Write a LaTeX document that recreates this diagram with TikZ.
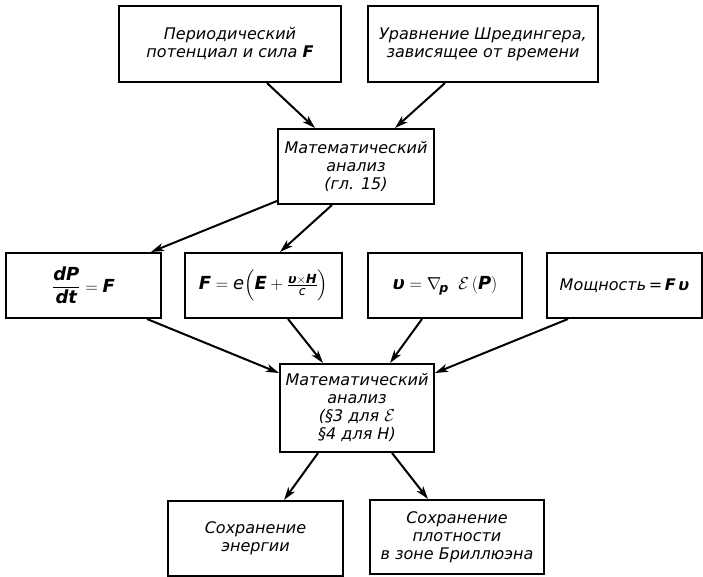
\documentclass[tikz,border=0pt]{standalone}
\usepackage{fontspec}
\usepackage{amsmath}
\setmainfont{DejaVu Sans}[ItalicFont={DejaVu Sans Oblique},BoldFont={DejaVu Sans Bold},BoldItalicFont={DejaVu Sans Bold Oblique}]
\usetikzlibrary{arrows.meta}
\newcommand\bv[1]{\text{\bfseries\itshape #1}}
\tikzset{
  box/.style={draw, line width=2pt, inner sep=0pt, align=center,
    font=\fontsize{16}{18}\selectfont\itshape},
  mathbox/.style={box, font=\fontsize{18}{21}\selectfont\itshape},
  arr/.style={line width=2pt, -{Stealth[length=13pt,width=8pt,inset=3.5pt]}},
}
\begin{document}
\begin{tikzpicture}[x=1pt,y=-1pt]
\useasboundingbox (0,0) rectangle (703,577);
\node[box, minimum width=222pt, minimum height=76pt] (b1) at (230,44)
  {Периодический\\потенциал и сила \textbf{F}};
\node[box, minimum width=230pt, minimum height=76pt] (b2) at (483,44)
  {Уравнение Шредингера,\\зависящее от времени};
\node[box, minimum width=156pt, minimum height=75pt] (b3) at (356,166.5)
  {Математический\\анализ\\(гл. 15)};
\node[mathbox, minimum width=155pt, minimum height=65pt] (b4) at (83.5,285.5)
  {$\dfrac{\bv{dP}}{\bv{dt}}=\bv{F}$};
\node[mathbox, minimum width=157pt, minimum height=65pt] (b5) at (263.5,285.5)
  {$\bv{F}=\textit{e}\Big(\bv{E}+\frac{\bv{υ}\times\bv{H}}{\textit{c}}\Big)$};
\node[mathbox, minimum width=154pt, minimum height=65pt] (b6) at (445,285.5)
  {$\bv{υ}=\nabla_{\!\bv{p}}\;\;\mathcal{E}\,(\bv{P})$};
\node[box, minimum width=155pt, minimum height=65pt] (b7) at (624.5,285.5)
  {Мощность\,=\,\textbf{F}\,\textbf{υ}};
\node[box, minimum width=154pt, minimum height=88pt] (b8) at (357,408)
  {Математический\\анализ\\(§3 для $\mathcal{E}$\\§4 для H)};
\node[box, minimum width=175pt, minimum height=75pt] (b9) at (255.5,538.5)
  {Сохранение\\энергии};
\node[box, minimum width=174pt, minimum height=74pt] (b10) at (457,537)
  {Сохранение\\плотности\\в зоне Бриллюэна};
\draw[arr] ([xshift=37pt]b1.south) -- ([xshift=-41pt]b3.north);
\draw[arr] ([xshift=-38pt]b2.south) -- ([xshift=39pt]b3.north);
\draw[arr] ([yshift=4pt]b3.south west) -- ([xshift=-11pt]b4.north east);
\draw[arr] ([xshift=-24pt]b3.south) -- ([xshift=16.5pt]b5.north);
\draw[arr] ([xshift=63.5pt]b4.south) -- ([yshift=-10pt]b8.north west);
\draw[arr] ([xshift=24.5pt]b5.south) -- ([xshift=-34pt]b8.north);
\draw[arr] ([xshift=-23pt]b6.south) -- ([xshift=33pt]b8.north);
\draw[arr] ([xshift=-56.5pt]b7.south) -- ([yshift=-10pt]b8.north east);
\draw[arr] ([xshift=-39pt]b8.south) -- ([xshift=28.5pt]b9.north);
\draw[arr] ([xshift=35pt]b8.south) -- ([xshift=-29pt]b10.north);
\end{tikzpicture}
\end{document}
